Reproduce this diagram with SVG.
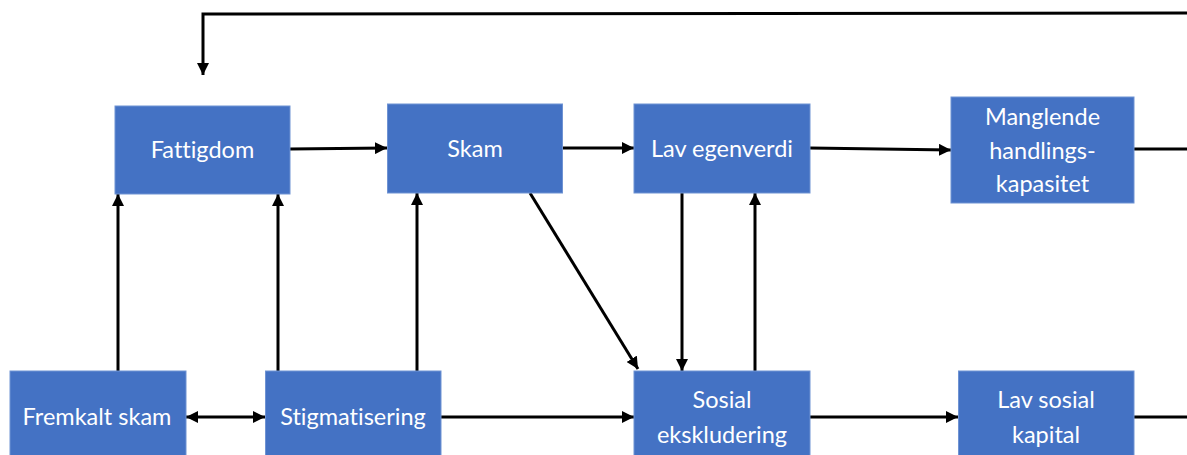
<svg xmlns="http://www.w3.org/2000/svg" width="1187" height="455" viewBox="0 0 1187 455">
<style>
.box{fill:#4472C4;stroke:#6F93D3;stroke-width:1}
.t{font-family:Lato,"Open Sans","Liberation Sans",sans-serif;font-size:23.5px;fill:#FFFFFF;text-anchor:middle;font-variant-ligatures:none;font-feature-settings:"liga" 0}
.c{fill:none;stroke:#000000;stroke-width:3}
</style>
<defs>
<marker id="ah" viewBox="0 0 10 10" refX="10" refY="5" markerWidth="12" markerHeight="12" markerUnits="userSpaceOnUse" orient="auto-start-reverse">
<path d="M0,0 L10,5 L0,10 Z" fill="#000000"/>
</marker>
</defs>
<rect width="1187" height="455" fill="#FFFFFF"/>
<g id="connectors">
<path class="c" d="M1187,13 L203,14 L203,75" marker-end="url(#ah)"/>
<path class="c" d="M290,149 L387,148" marker-end="url(#ah)"/>
<path class="c" d="M563,148 L634,148" marker-end="url(#ah)"/>
<path class="c" d="M810,148 L951,150" marker-end="url(#ah)"/>
<path class="c" d="M1134,149 L1187,149"/>
<path class="c" d="M118,371 L118,194" marker-end="url(#ah)"/>
<path class="c" d="M278,371 L278,194" marker-end="url(#ah)"/>
<path class="c" d="M417,371 L417,193" marker-end="url(#ah)"/>
<path class="c" d="M530,193 L638,369" marker-end="url(#ah)"/>
<path class="c" d="M682,193 L682,371" marker-end="url(#ah)"/>
<path class="c" d="M755,371 L755,193" marker-end="url(#ah)"/>
<path class="c" d="M186,417 L265,417" marker-start="url(#ah)" marker-end="url(#ah)"/>
<path class="c" d="M441,417 L634,417" marker-end="url(#ah)"/>
<path class="c" d="M810,417 L958,417" marker-end="url(#ah)"/>
<path class="c" d="M1134,417 L1187,417"/>
</g>
<g id="fattigdom">
<rect class="box" x="115" y="106" width="175" height="88"/>
<text class="t" x="202.5" y="158">Fattigdom</text>
</g>
<g id="skam">
<rect class="box" x="387.5" y="104" width="175" height="89"/>
<text class="t" x="475" y="157">Skam</text>
</g>
<g id="lav-egenverdi">
<rect class="box" x="634" y="104" width="176" height="89"/>
<text class="t" x="722" y="157">Lav egenverdi</text>
</g>
<g id="manglende">
<rect class="box" x="951" y="97" width="183" height="106"/>
<text class="t" x="1042.5" y="125">Manglende</text>
<text class="t" x="1042.5" y="159">handlings-</text>
<text class="t" x="1042.5" y="192">kapasitet</text>
</g>
<g id="fremkalt-skam">
<rect class="box" x="10" y="371" width="176" height="100"/>
<text class="t" x="97" y="425">Fremkalt skam</text>
</g>
<g id="stigmatisering">
<rect class="box" x="265.5" y="371" width="175.5" height="100"/>
<text class="t" x="353" y="425">Stigmatisering</text>
</g>
<g id="sosial-ekskludering">
<rect class="box" x="634" y="371" width="176" height="100"/>
<text class="t" x="722" y="408">Sosial</text>
<text class="t" x="722" y="443">ekskludering</text>
</g>
<g id="lav-sosial-kapital">
<rect class="box" x="958.5" y="371" width="175.5" height="100"/>
<text class="t" x="1046" y="408">Lav sosial</text>
<text class="t" x="1046" y="443">kapital</text>
</g>
</svg>
